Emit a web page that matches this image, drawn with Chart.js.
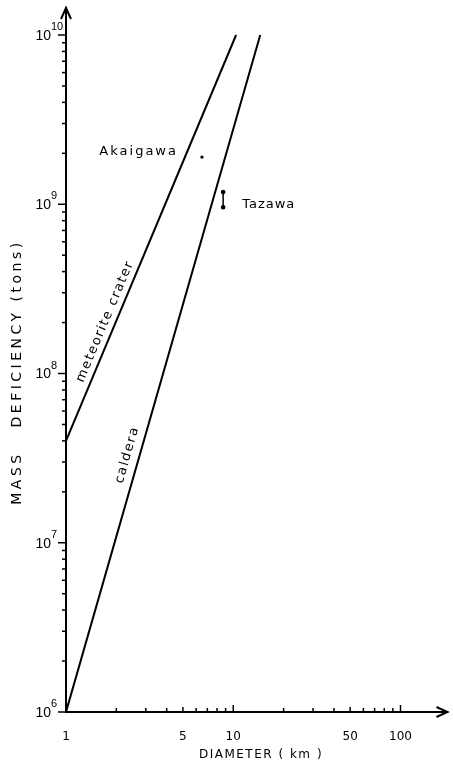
<!DOCTYPE html>
<html>
<head>
<meta charset="utf-8">
<script src="https://cdn.jsdelivr.net/npm/chart.js@4.4.0/dist/chart.umd.min.js"></script>
<style>
  html, body { margin: 0; padding: 0; background: #fff; }
  #wrap { width: 453px; height: 771px; }
</style>
</head>
<body>
<div id="wrap"><canvas id="chart" width="453" height="771"></canvas></div>
<script>
// diameter in km, mass deficiency in tons
const craterDiameter = [1, 10.4];
const craterMass = [4e7, 1e10];
const calderaDiameter = [1, 14.5];
const calderaMass = [1e6, 1e10];
const akaigawaDiameter = [6.5];
const akaigawaMass = [1.9e9];
const tazawaDiameter = [8.7, 8.7];
const tazawaMass = [9.6e8, 1.18e9];

// axis ticks
const xTickLabels = [1, 5, 10, 50, 100];
const xMinorTicks = [2, 3, 4, 5, 6, 7, 8, 9, 10, 20, 30, 40, 50, 60, 70, 80, 90, 100];
const yTickExponents = [6, 7, 8, 9, 10];
const yMinorSteps = [2, 3, 4, 5, 6, 7, 8, 9];

const toPoints = (xs, ys) => xs.map((v, i) => ({ x: v, y: ys[i] }));

function stroke(ctx, x1, y1, x2, y2) {
    ctx.beginPath();
    ctx.moveTo(x1, y1);
    ctx.lineTo(x2, y2);
    ctx.stroke();
}

// label written along a line dataset, t = position along it, off = shift to its upper-left side
function lineLabel(chart, idx, text, t, off) {
    const pts = chart.getDatasetMeta(idx).data;
    const p0 = pts[0], p1 = pts[pts.length - 1];
    const dx = p1.x - p0.x, dy = p1.y - p0.y;
    const len = Math.hypot(dx, dy);
    const ang = Math.atan2(dy, dx);
    const cx = p0.x + dx * t + (dy / len) * off;
    const cy = p0.y + dy * t - (dx / len) * off;
    const ctx = chart.ctx;
    ctx.save();
    ctx.translate(cx, cy);
    ctx.rotate(ang);
    ctx.font = '13px "DejaVu Sans"';
    ctx.letterSpacing = '1.5px';
    ctx.textAlign = 'center';
    ctx.textBaseline = 'middle';
    ctx.fillText(text, 0, 0);
    ctx.restore();
}

const decor = {
    id: 'decor',
    afterDraw(chart) {
        const { ctx, chartArea: a, scales: { x, y } } = chart;
        ctx.save();
        ctx.strokeStyle = '#000';
        ctx.fillStyle = '#000';

        // x ticks point up into the plot
        ctx.lineWidth = 1.5;
        xMinorTicks.forEach(v => {
            const px = x.getPixelForValue(v);
            const len = (v === 10 || v === 100) ? 7 : (v === 5 || v === 50) ? 5 : 4;
            stroke(ctx, px, a.bottom, px, a.bottom - len);
        });

        // y ticks point left
        yTickExponents.forEach(e => {
            const base = Math.pow(10, e);
            const py = y.getPixelForValue(base);
            stroke(ctx, a.left - 8, py, a.left, py);
            if (e < 10) {
                yMinorSteps.forEach(m => {
                    const pm = y.getPixelForValue(base * m);
                    stroke(ctx, a.left - 4, pm, a.left, pm);
                });
            }
            ctx.font = '14px "Liberation Sans"';
            ctx.textAlign = 'right';
            ctx.textBaseline = 'middle';
            ctx.fillText('10', 51, py + 1);
            ctx.font = '11px "Liberation Sans"';
            ctx.textAlign = 'left';
            ctx.fillText(String(e), 51, py - 8);
        });

        // arrow heads
        ctx.lineWidth = 2;
        ctx.beginPath();
        ctx.moveTo(a.left - 5, a.top + 11);
        ctx.lineTo(a.left, a.top);
        ctx.lineTo(a.left + 5, a.top + 11);
        ctx.stroke();
        ctx.beginPath();
        ctx.moveTo(a.right - 11, a.bottom - 5);
        ctx.lineTo(a.right, a.bottom);
        ctx.lineTo(a.right - 11, a.bottom + 5);
        ctx.stroke();

        // axis titles
        ctx.font = '12px "DejaVu Sans"';
        ctx.letterSpacing = '1.5px';
        ctx.textAlign = 'center';
        ctx.textBaseline = 'middle';
        ctx.fillText('DIAMETER ( km )', 261, 755);

        ctx.save();
        ctx.translate(17, 372);
        ctx.rotate(-Math.PI / 2);
        ctx.font = '14px "DejaVu Sans"';
        ctx.letterSpacing = '3.5px';
        ctx.fillText('MASS   DEFICIENCY (tons)', 0, 0);
        ctx.restore();

        // point names
        ctx.font = '13px "DejaVu Sans"';
        ctx.letterSpacing = '2px';
        ctx.textBaseline = 'middle';
        const ak = chart.getDatasetMeta(2).data[0];
        ctx.textAlign = 'right';
        ctx.fillText('Akaigawa', ak.x - 24, ak.y - 5);
        ctx.letterSpacing = '1px';
        const tz = chart.getDatasetMeta(3).data;
        ctx.textAlign = 'left';
        ctx.fillText('Tazawa', tz[0].x + 19, (tz[0].y + tz[1].y) / 2 + 5);
        ctx.restore();

        lineLabel(chart, 0, 'meteorite crater', 0.285, 10);
        lineLabel(chart, 1, 'caldera', 0.375, 12);
    }
};

new Chart(document.getElementById('chart'), {
    type: 'scatter',
    data: {
        datasets: [
            {
                label: 'meteorite crater',
                data: toPoints(craterDiameter, craterMass),
                showLine: true,
                borderColor: '#000',
                borderWidth: 2,
                pointRadius: 0
            },
            {
                label: 'caldera',
                data: toPoints(calderaDiameter, calderaMass),
                showLine: true,
                borderColor: '#000',
                borderWidth: 2,
                pointRadius: 0
            },
            {
                label: 'Akaigawa',
                data: toPoints(akaigawaDiameter, akaigawaMass),
                pointStyle: 'rect',
                pointRadius: 2,
                backgroundColor: '#000',
                borderColor: '#000',
                borderWidth: 0
            },
            {
                label: 'Tazawa',
                data: toPoints(tazawaDiameter, tazawaMass),
                showLine: true,
                borderColor: '#000',
                borderWidth: 1.5,
                pointStyle: 'circle',
                pointRadius: 1.6,
                backgroundColor: '#000'
            }
        ]
    },
    options: {
        responsive: false,
        animation: false,
        layout: { padding: { top: 8, right: 1, left: 0, bottom: 0 } },
        plugins: { legend: { display: false }, tooltip: { enabled: false } },
        scales: {
            x: {
                type: 'logarithmic',
                min: 1,
                max: 191,
                grid: { display: false, drawTicks: false },
                border: { display: true, color: '#000', width: 2 },
                afterBuildTicks: s => { s.ticks = xTickLabels.map(v => ({ value: v })); },
                afterFit: s => { s.height = 59; },
                ticks: {
                    color: '#000',
                    padding: 18,
                    maxRotation: 0,
                    autoSkip: false,
                    font: { family: 'DejaVu Sans', size: 12 },
                    callback: v => String(v)
                }
            },
            y: {
                type: 'logarithmic',
                min: 1e6,
                max: 1.444e10,
                grid: { display: false, drawTicks: false },
                border: { display: true, color: '#000', width: 2 },
                ticks: { display: false },
                afterFit: s => { s.width = 66; }
            }
        }
    },
    plugins: [decor]
});
</script>
</body>
</html>
